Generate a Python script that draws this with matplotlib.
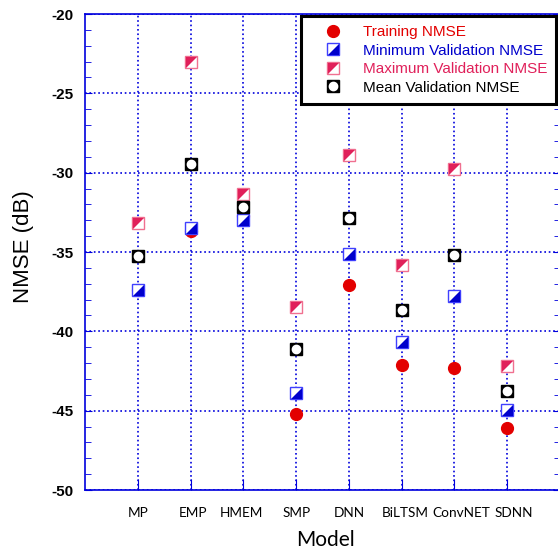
import matplotlib
matplotlib.use("Agg")
import matplotlib.pyplot as plt
from matplotlib.ticker import MultipleLocator
from matplotlib.lines import Line2D

plt.rcParams["axes.unicode_minus"] = False

models = ["MP", "EMP", "HMEM", "SMP", "DNN", "BiLTSM", "ConvNET", "SDNN"]
training = [-37.4, -33.7, -32.7, -45.2, -37.1, -42.1, -42.3, -46.1]
min_val = [-37.4, -33.5, -33.0, -43.9, -35.15, -40.65, -37.8, -44.95]
max_val = [-33.2, -23.0, -31.35, -38.45, -28.9, -35.8, -29.75, -42.2]
mean_val = [-35.25, -29.45, -32.15, -41.1, -32.85, -38.65, -35.2, -43.75]

RED = "#e30000"
BLUE = "#0000cc"
PINK = "#e0205a"
AXBLUE = "#0000dd"

# half filled squares (diagonal split)
lower_right = [(-1, -1), (1, -1), (1, 1), (-1, -1)]
upper_left = [(-1, -1), (-1, 1), (1, 1), (-1, -1)]

fig = plt.figure(figsize=(5.58, 5.54), dpi=100)
ax = fig.add_axes([85 / 558, 1 - 490 / 554, 475 / 558, 476 / 554])

x = list(range(1, len(models) + 1))

ax.plot(x, training, ls="none", marker="o", ms=8.5, mfc=RED, mec=RED, zorder=3)

ax.plot(x, min_val, ls="none", marker="s", ms=8, mfc="white", mec="#4040ff", mew=1, zorder=4)
ax.plot(x, min_val, ls="none", marker=lower_right, ms=8, mfc=BLUE, mec="none", mew=0, zorder=4)

ax.plot(x, max_val, ls="none", marker="s", ms=8, mfc="white", mec="#f07090", mew=1, zorder=5)
ax.plot(x, max_val, ls="none", marker=upper_left, ms=8, mfc=PINK, mec="none", mew=0, zorder=5)

ax.plot(x, mean_val, ls="none", marker="s", ms=9, mfc="black", mec="black", zorder=6)
ax.plot(x, mean_val, ls="none", marker="o", ms=6, mfc="white", mec="white", zorder=6)

ax.set_xlim(0, 9)
ax.set_ylim(-50, -20)
ax.set_xticks(x)
ax.set_xticklabels([])
# model names, the last ones sit a little right of their ticks in the original
shifts = [0, 2, -2, 0, 0, 4, 7, 7]
for xi, name, dx in zip(x, models, shifts):
    ax.annotate(name, xy=(xi, 0), xycoords=("data", "axes fraction"),
                xytext=(dx, -23), textcoords="offset pixels",
                ha="center", va="center", family="Lato", fontsize=9.8)
ax.yaxis.set_major_locator(MultipleLocator(5))
ax.yaxis.set_minor_locator(MultipleLocator(1))
for lab in ax.get_yticklabels():
    lab.set_fontweight("bold")
    lab.set_family("Liberation Sans")
    lab.set_fontsize(11)

ax.tick_params(axis="x", direction="in", length=8, color=AXBLUE, bottom=True, top=False)
ax.tick_params(axis="y", which="both", direction="in", color=AXBLUE, left=True, right=True, pad=8)
ax.tick_params(axis="y", which="major", length=5)
ax.tick_params(axis="y", which="minor", length=4)

ax.grid(True, which="major", color=AXBLUE, ls=":", lw=1.2)
ax.set_axisbelow(True)
for sp in ax.spines.values():
    sp.set_color(AXBLUE)
    sp.set_linewidth(1.2)

fig.text(23 / 558, 1 - 247 / 554, "NMSE (dB)", rotation=90, ha="center", va="center",
         family="Liberation Sans", fontsize=16)
fig.text(325 / 558, 1 - 540 / 554, "Model", ha="center", va="center", family="Lato", fontsize=15)

# legend
h_train = Line2D([], [], ls="none", marker="o", ms=8.5, mfc=RED, mec=RED)
h_min = (Line2D([], [], ls="none", marker="s", ms=8, mfc="white", mec="#4040ff"),
         Line2D([], [], ls="none", marker=lower_right, ms=8, mfc=BLUE, mec="none", mew=0))
h_max = (Line2D([], [], ls="none", marker="s", ms=8, mfc="white", mec="#f07090"),
         Line2D([], [], ls="none", marker=upper_left, ms=8, mfc=PINK, mec="none", mew=0))
h_mean = (Line2D([], [], ls="none", marker="s", ms=9, mfc="black", mec="black"),
          Line2D([], [], ls="none", marker="o", ms=6, mfc="white", mec="white"))

leg = ax.legend([h_train, h_min, h_max, h_mean],
                ["Training NMSE", "Minimum Validation NMSE", "Maximum Validation NMSE", "Mean Validation NMSE"],
                loc="upper right", bbox_to_anchor=(0.992, 0.996), borderaxespad=0,
                prop={"family": "Liberation Sans", "size": 11},
                fancybox=False, framealpha=1, edgecolor="black",
                borderpad=0.6, labelspacing=0.3, handlelength=3.0, handletextpad=0.46)
leg.get_frame().set_linewidth(2.2)
for t, c in zip(leg.get_texts(), [RED, BLUE, PINK, "black"]):
    t.set_color(c)

fig.savefig("out.png", dpi=100)
